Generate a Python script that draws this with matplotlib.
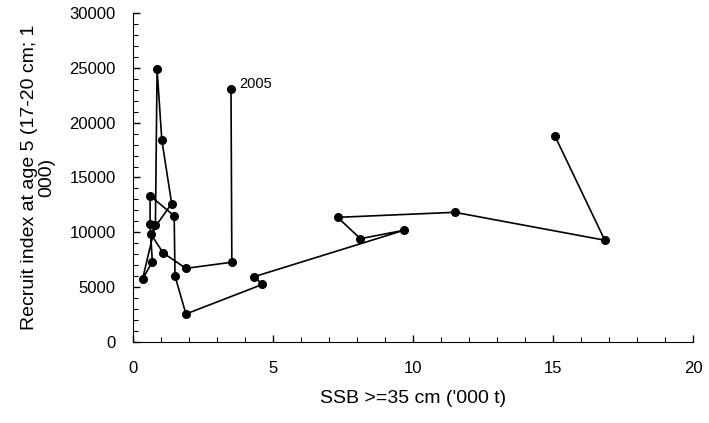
import matplotlib
matplotlib.use("Agg")
import matplotlib.pyplot as plt
from matplotlib.ticker import MultipleLocator

plt.rcParams['font.family'] = ['Liberation Sans', 'DejaVu Sans']

# SSB ('000 t) og rekruttering, i årsrekkefølge (siste punkt = 2005)
ssb = [15.07, 16.85, 11.49, 7.31, 8.12, 9.68, 4.33, 4.62, 1.89, 1.50, 1.47, 0.61,
       0.61, 0.69, 0.34, 0.80, 0.86, 1.03, 1.38, 0.625, 1.08, 1.89, 3.53, 3.50]
recruits = [18790, 9270, 11820, 11360, 9410, 10180, 5940, 5230, 2530, 6000, 11500, 13330,
            10710, 7300, 5710, 10680, 24880, 18410, 12620, 9880, 8100, 6700, 7260, 23080]
label_year = "2005"

fig = plt.figure(figsize=(7.09, 4.23), dpi=100)
ax = fig.add_axes([0.1876, 0.1922, 0.7898, 0.7764])

ax.plot(ssb, recruits, color='black', linewidth=1.2, marker='o', markersize=5.5)
ax.annotate(label_year, (ssb[-1], recruits[-1]), xytext=(6, 1),
            textcoords='offset points', fontsize=10.5)

ax.set_xlim(0, 20)
ax.set_ylim(0, 30000)
ax.xaxis.set_major_locator(MultipleLocator(5))
ax.xaxis.set_minor_locator(MultipleLocator(1))
ax.yaxis.set_major_locator(MultipleLocator(5000))
ax.yaxis.set_minor_locator(MultipleLocator(1000))

ax.spines['top'].set_visible(False)
ax.spines['right'].set_visible(False)
ax.tick_params(which='both', direction='in', labelsize=12)
ax.tick_params(which='major', length=5, width=1)
ax.tick_params(which='minor', length=3.5, width=0.8)
ax.tick_params(axis='x', pad=14)
ax.tick_params(axis='y', pad=12.5)

ax.set_xlabel("SSB >=35 cm ('000 t)", fontsize=14, labelpad=10)
ax.set_ylabel("Recruit index at age 5 (17-20 cm; 1\n000)", fontsize=14,
              linespacing=1.0, labelpad=10)

fig.savefig("out.png", dpi=100)
